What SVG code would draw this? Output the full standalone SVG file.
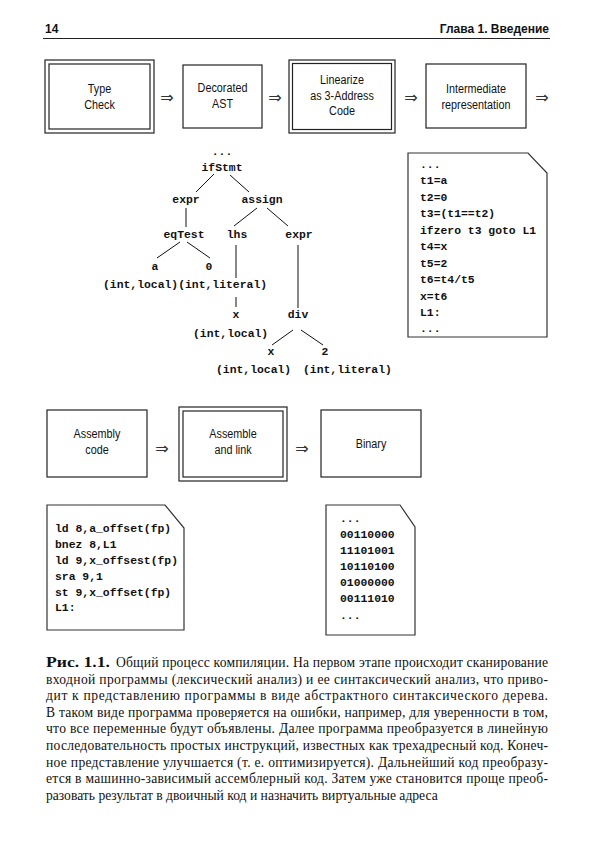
<svg xmlns="http://www.w3.org/2000/svg" width="595" height="842" viewBox="0 0 595 842">
<style>
.box{fill:#fff;stroke:#222;stroke-width:1.2}
.doc{fill:#fff;stroke:#333;stroke-width:1.2}
.lbl{font-family:"Liberation Sans",Arial,sans-serif;font-size:13.5px;fill:#111;text-anchor:middle}
.mono{font-family:"Liberation Mono","Courier New",monospace;font-size:11.4px;font-weight:bold;fill:#111}
.tree{text-anchor:middle}
.arr{font-family:"DejaVu Sans",sans-serif;font-size:16px;fill:#333;text-anchor:middle}
.edge{stroke:#111;stroke-width:1;fill:none}
.cap{font-family:"Liberation Serif","Times New Roman",serif;font-size:13.6px;fill:#111}
.hdr{font-family:"Liberation Sans",Arial,sans-serif;font-size:12px;font-weight:bold;fill:#111}
</style>
<rect width="595" height="842" fill="#fff"/>
<g id="header">
<text class="hdr" x="45" y="33">14</text>
<text class="hdr" x="549" y="33" text-anchor="end">Глава 1. Введение</text>
<line x1="43" y1="38.5" x2="550" y2="38.5" stroke="#222" stroke-width="1.2"/>
</g>
<g id="typecheck">
<rect class="box" x="45" y="60" width="109" height="73"/>
<rect class="box" x="49" y="64" width="101" height="65"/>
<text class="lbl" transform="translate(99.5,93) scale(0.8,1)">Type</text>
<text class="lbl" transform="translate(99.5,108.5) scale(0.8,1)">Check</text>
</g>
<g id="decorated">
<rect class="box" x="183" y="65" width="79" height="63"/>
<text class="lbl" transform="translate(222.5,92) scale(0.8,1)">Decorated</text>
<text class="lbl" transform="translate(222.5,107.5) scale(0.8,1)">AST</text>
</g>
<g id="linearize">
<rect class="box" x="289" y="60" width="106" height="73"/>
<rect class="box" x="292.5" y="63.5" width="99" height="66"/>
<text class="lbl" transform="translate(342,84) scale(0.8,1)">Linearize</text>
<text class="lbl" transform="translate(342,99.5) scale(0.8,1)">as 3-Address</text>
<text class="lbl" transform="translate(342,115) scale(0.8,1)">Code</text>
</g>
<g id="intermediate">
<rect class="box" x="426" y="64" width="100" height="64"/>
<text class="lbl" transform="translate(476,93) scale(0.8,1)">Intermediate</text>
<text class="lbl" transform="translate(476,109) scale(0.8,1)">representation</text>
</g>
<g id="assembly">
<rect class="box" x="47" y="410" width="100" height="67"/>
<text class="lbl" transform="translate(97,438) scale(0.8,1)">Assembly</text>
<text class="lbl" transform="translate(97,454) scale(0.8,1)">code</text>
</g>
<g id="assemble">
<rect class="box" x="179" y="407" width="108" height="74"/>
<rect class="box" x="183" y="411" width="100" height="66"/>
<text class="lbl" transform="translate(233,438) scale(0.8,1)">Assemble</text>
<text class="lbl" transform="translate(233,454) scale(0.8,1)">and link</text>
</g>
<g id="binary">
<rect class="box" x="321" y="410" width="100" height="67"/>
<text class="lbl" transform="translate(371,448) scale(0.8,1)">Binary</text>
</g>
<g id="connectors">
<text class="arr" x="167" y="102.5">⇒</text>
<text class="arr" x="275" y="102.5">⇒</text>
<text class="arr" x="411" y="102.5">⇒</text>
<text class="arr" x="542" y="102.5">⇒</text>
<text class="arr" x="162" y="453.5">⇒</text>
<text class="arr" x="302" y="453.5">⇒</text>
<path class="edge" d="M214,174 L196,192 M230,175 L249,192 M186,208 L186,227 M257,208 L234,226 M267,208 L288,226 M180,242 L157,258 M187,242 L210,258 M236,245 L236,278 M236,297 L236,307 M298,245 L298,308 M293,330 L272,345 M301,330 L323,345"/>
</g>
<g id="ast">
<text class="mono tree" x="222" y="155">...</text>
<text class="mono tree" x="222" y="171">ifStmt</text>
<text class="mono tree" x="186" y="203">expr</text>
<text class="mono tree" x="262" y="203">assign</text>
<text class="mono tree" x="184" y="238">eqTest</text>
<text class="mono tree" x="237" y="238">lhs</text>
<text class="mono tree" x="299" y="238">expr</text>
<text class="mono tree" x="155" y="270">a</text>
<text class="mono tree" x="209" y="270">0</text>
<text class="mono" x="103" y="288">(int,local)(int,literal)</text>
<text class="mono tree" x="236" y="318">x</text>
<text class="mono tree" x="298" y="318">div</text>
<text class="mono" x="193" y="337">(int,local)</text>
<text class="mono tree" x="271" y="355">x</text>
<text class="mono tree" x="325" y="355">2</text>
<text class="mono" x="216" y="373">(int,local)</text>
<text class="mono" x="303" y="373">(int,literal)</text>
</g>
<g id="tac">
<path class="doc" d="M408,153 H528 L547,173 V337 H408 Z"/>
<text class="mono" x="420" y="167.5">...</text>
<text class="mono" x="420" y="184">t1=a</text>
<text class="mono" x="420" y="200.5">t2=0</text>
<text class="mono" x="420" y="217">t3=(t1==t2)</text>
<text class="mono" x="420" y="233.5">ifzero t3 goto L1</text>
<text class="mono" x="420" y="250">t4=x</text>
<text class="mono" x="420" y="266.5">t5=2</text>
<text class="mono" x="420" y="283">t6=t4/t5</text>
<text class="mono" x="420" y="299.5">x=t6</text>
<text class="mono" x="420" y="316">L1:</text>
<text class="mono" x="420" y="332">...</text>
</g>
<g id="asm">
<path class="doc" d="M47,505 H165 L184,528 V630 H47 Z"/>
<text class="mono" x="55" y="532">ld 8,a_offset(fp)</text>
<text class="mono" x="55" y="548">bnez 8,L1</text>
<text class="mono" x="55" y="564">ld 9,x_offsest(fp)</text>
<text class="mono" x="55" y="580">sra 9,1</text>
<text class="mono" x="55" y="595.5">st 9,x_offset(fp)</text>
<text class="mono" x="55" y="611">L1:</text>
</g>
<g id="bin">
<path class="doc" d="M326,505 H400 L415,527 V635 H326 Z"/>
<text class="mono" x="340" y="522">...</text>
<text class="mono" x="340" y="538">00110000</text>
<text class="mono" x="340" y="554">11101001</text>
<text class="mono" x="340" y="570">10110100</text>
<text class="mono" x="340" y="586">01000000</text>
<text class="mono" x="340" y="602">00111010</text>
<text class="mono" x="340" y="619">...</text>
</g>
<g id="caption">
<text class="cap" x="46" y="667" font-weight="bold" font-size="15" textLength="64" lengthAdjust="spacingAndGlyphs">Рис. 1.1.</text>
<text class="cap" x="116" y="667" textLength="432" lengthAdjust="spacing">Общий процесс компиляции. На первом этапе происходит сканирование</text>
<text class="cap" x="46" y="683.6" textLength="502" lengthAdjust="spacing">входной программы  (лексический анализ) и ее синтаксический анализ, что приво-</text>
<text class="cap" x="46" y="700.2" textLength="502" lengthAdjust="spacing">дит к представлению программы в виде абстрактного синтаксического дерева.</text>
<text class="cap" x="46" y="716.8" textLength="502" lengthAdjust="spacing">В таком виде программа проверяется на ошибки, например, для уверенности в том,</text>
<text class="cap" x="46" y="733.4" textLength="502" lengthAdjust="spacing">что все переменные будут объявлены. Далее программа преобразуется в линейную</text>
<text class="cap" x="46" y="750" textLength="502" lengthAdjust="spacing">последовательность простых инструкций, известных как трехадресный код. Конеч-</text>
<text class="cap" x="46" y="766.6" textLength="502" lengthAdjust="spacing">ное представление улучшается (т. е. оптимизируется). Дальнейший код преобразу-</text>
<text class="cap" x="46" y="783.2" textLength="502" lengthAdjust="spacing">ется в машинно-зависимый ассемблерный код. Затем уже становится проще преоб-</text>
<text class="cap" x="46" y="799.8">разовать результат в двоичный код и назначить виртуальные адреса</text>
</g>
</svg>
